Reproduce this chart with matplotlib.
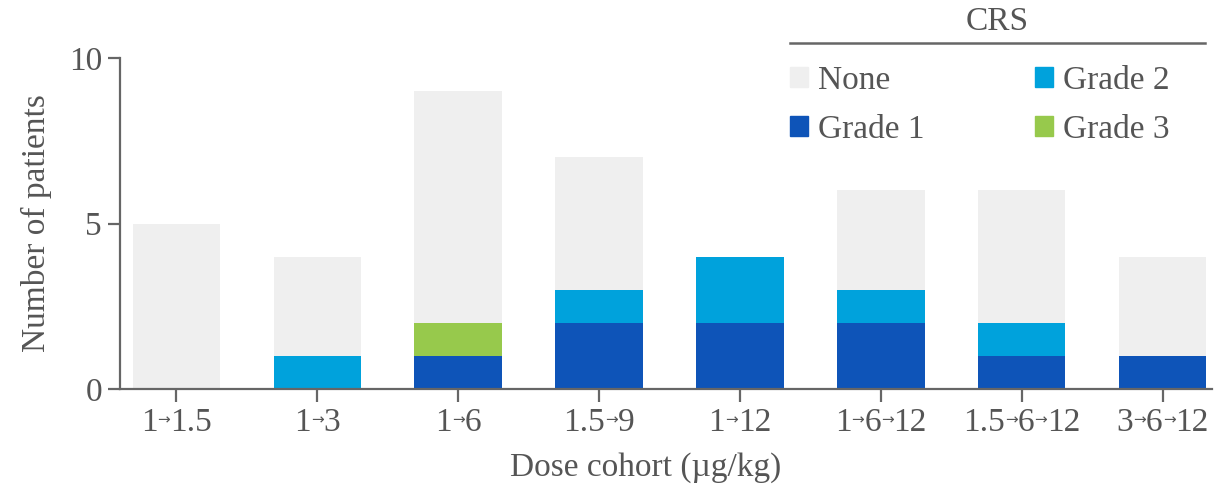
import numpy as np
import matplotlib.pyplot as plt
from matplotlib.lines import Line2D
from matplotlib.patches import Patch
from matplotlib.offsetbox import TextArea, HPacker, VPacker, DrawingArea, AnnotationBbox

plt.rcParams['font.family'] = ['Liberation Serif', 'DejaVu Serif']

# data
cohorts = ['1→1.5', '1→3', '1→6', '1.5→9', '1→12', '1→6→12', '1.5→6→12', '3→6→12']
grade1 = [0, 0, 1, 2, 2, 2, 1, 1]
grade2 = [0, 1, 0, 1, 2, 1, 1, 0]
grade3 = [0, 0, 1, 0, 0, 0, 0, 0]
none = [5, 3, 7, 4, 0, 3, 4, 3]

c_none = '#efefef'
c_g1 = '#0e54b8'
c_g2 = '#00a2dc'
c_g3 = '#97c94c'
txt = '#555555'
fs = 24

fig = plt.figure(figsize=(12.32, 4.9), dpi=100)
ax = fig.add_axes([0.0974, 0.206, 0.8864, 0.6756])

x = np.arange(len(cohorts))
w = 0.62
b = np.zeros(len(cohorts))
for vals, col in [(grade1, c_g1), (grade2, c_g2), (grade3, c_g3), (none, c_none)]:
    ax.bar(x, vals, w, bottom=b, color=col, edgecolor='none')
    b = b + np.array(vals)

ax.set_xlim(-0.4, 7.35)
ax.set_ylim(0, 10)
ax.set_yticks([0, 5, 10])
ax.set_xticks(x)
ax.set_xticklabels([])
for s in ['top', 'right']:
    ax.spines[s].set_visible(False)
for s in ['left', 'bottom']:
    ax.spines[s].set_color('#666666')
    ax.spines[s].set_linewidth(1.6)
ax.tick_params(colors='#666666', labelcolor=txt, labelsize=fs, length=9, width=1.6, pad=4)

# x tick labels with small arrows
for xi, lab in zip(x, cohorts):
    parts = lab.split('→')
    kids = []
    for k, p in enumerate(parts):
        if k > 0:
            arr = TextArea('→', textprops=dict(fontsize=11, color=txt, family='DejaVu Sans'))
            kids.append(VPacker(children=[arr, DrawingArea(1, 4)], pad=0, sep=0))
        kids.append(TextArea(p, textprops=dict(fontsize=fs, color=txt)))
    box = HPacker(children=kids, align='center', pad=0, sep=0)
    ab = AnnotationBbox(box, (xi, 0), xycoords=('data', 'axes fraction'),
                        xybox=(0, -13), boxcoords='offset points',
                        box_alignment=(0.5, 1), frameon=False, pad=0)
    ax.add_artist(ab)

fig.text(0.524, 0.045, 'Dose cohort (µg/kg)', fontsize=fs, color=txt, ha='center', va='center')
ax.set_ylabel('Number of patients', fontsize=fs, color=txt, labelpad=12)

# legend
handles = [Patch(color=c_none), Patch(color=c_g1), Patch(color=c_g2), Patch(color=c_g3)]
labels = ['None', 'Grade 1', 'Grade 2', 'Grade 3']
leg = fig.legend(handles, labels, ncol=2, loc='upper left', bbox_to_anchor=(0.641, 0.867),
                 frameon=False, fontsize=fs, handlelength=0.55, handleheight=0.55,
                 handletextpad=0.3, columnspacing=3.3, labelspacing=0.57, borderpad=0,
                 borderaxespad=0)
for t in leg.get_texts():
    t.set_color(txt)
fig.text(0.809, 0.955, 'CRS', fontsize=fs, color=txt, ha='center', va='center')
fig.add_artist(Line2D([0.641, 0.978], [0.912, 0.912], color='#666666', lw=1.8))

fig.savefig('out.png', dpi=100)
